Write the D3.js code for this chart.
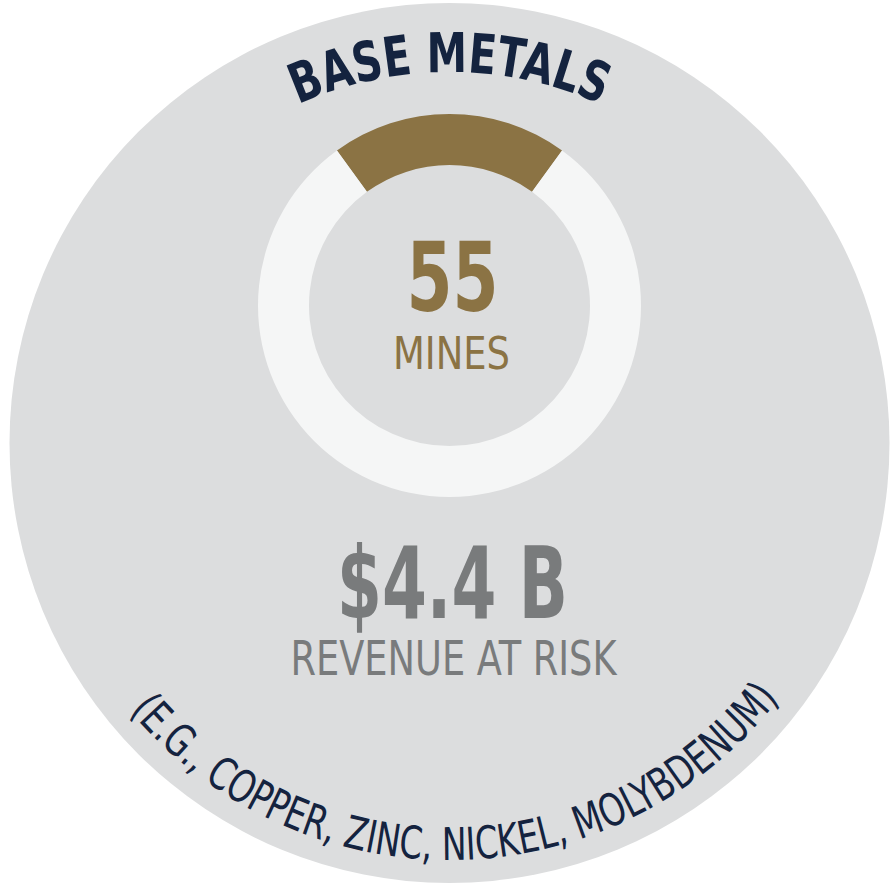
<!DOCTYPE html>
<html>
<head>
<meta charset="utf-8">
<script src="https://cdn.jsdelivr.net/npm/d3@7"></script>
<style>
  html, body { margin: 0; padding: 0; background: #ffffff; }
  svg { display: block; }
</style>
</head>
<body>
<div id="chart"></div>
<script>
// Share of mines: base metals vs. the rest (percent of the ring)
const shareLabels = ["Base metals", "Other"];
const shareValues = [20, 80];

// Headline figures
const mineCount = 55;
const mineLabel = "MINES";
const revenueLabel = "$4.4 B";
const revenueCaption = "REVENUE AT RISK";
const title = "BASE METALS";
const examples = "(E.G., COPPER, ZINC, NICKEL, MOLYBDENUM)";

const W = 892, H = 888;
const NARROW = "'Liberation Sans Narrow', 'DejaVu Sans Condensed', 'Arial Narrow', sans-serif";
const colors = { disc: "#dcddde", ring: "#f5f6f6", gold: "#8b7344", navy: "#14233f", grey: "#797b7c" };

const svg = d3.select("#chart").append("svg")
  .attr("width", W).attr("height", H);

// Backdrop disc
const disc = { cx: 449.5, cy: 443, r: 440 };
svg.append("circle")
  .attr("cx", disc.cx).attr("cy", disc.cy).attr("r", disc.r)
  .attr("fill", colors.disc);

// Curved paths for the title (over the top) and examples (under the bottom)
const defs = svg.append("defs");
const topR = 371, botR = 417;
defs.append("path").attr("id", "topArc")
  .attr("d", `M ${disc.cx - topR} ${disc.cy} A ${topR} ${topR} 0 0 1 ${disc.cx + topR} ${disc.cy}`);
defs.append("path").attr("id", "botArc")
  .attr("d", `M ${disc.cx - botR} ${disc.cy} A ${botR} ${botR} 0 0 0 ${disc.cx + botR} ${disc.cy}`);

svg.append("text")
  .attr("font-family", NARROW).attr("font-weight", "bold")
  .attr("font-size", 55).attr("fill", colors.navy)
  .append("textPath").attr("href", "#topArc")
  .attr("startOffset", "50%").attr("text-anchor", "middle")
  .attr("textLength", 312).attr("lengthAdjust", "spacingAndGlyphs")
  .text(title);

svg.append("text")
  .attr("font-family", NARROW)
  .attr("font-size", 45).attr("fill", colors.navy)
  .append("textPath").attr("href", "#botArc")
  .attr("startOffset", "50.6%").attr("text-anchor", "middle")
  .attr("textLength", 745).attr("lengthAdjust", "spacingAndGlyphs")
  .text(examples);

// Donut ring
const ring = { cx: 449.5, cy: 305.5, outer: 191.5, inner: 140.5 };
const pie = d3.pie().sort(null).value(d => d.value)
  .startAngle(-Math.PI * 0.2).endAngle(Math.PI * 1.8);
const arc = d3.arc().innerRadius(ring.inner).outerRadius(ring.outer);
const color = d3.scaleOrdinal().domain(shareLabels).range([colors.gold, colors.ring]);

svg.append("g")
  .attr("transform", `translate(${ring.cx},${ring.cy})`)
  .selectAll("path")
  .data(pie(shareValues.map((v, i) => ({ label: shareLabels[i], value: v }))))
  .join("path")
  .attr("d", arc)
  .attr("fill", d => color(d.data.label));

// Centre figures
const centre = svg.append("g").attr("text-anchor", "middle").attr("font-family", NARROW);
centre.append("text")
  .attr("x", ring.cx + 3).attr("y", 311)
  .attr("font-size", 97).attr("font-weight", "bold").attr("fill", colors.gold)
  .attr("textLength", 92).attr("lengthAdjust", "spacingAndGlyphs")
  .text(mineCount);
centre.append("text")
  .attr("x", ring.cx + 2).attr("y", 369)
  .attr("font-size", 45).attr("fill", colors.gold)
  .attr("textLength", 117).attr("lengthAdjust", "spacingAndGlyphs")
  .text(mineLabel);

centre.append("text")
  .attr("x", ring.cx + 3).attr("y", 618)
  .attr("font-size", 99).attr("font-weight", "bold").attr("fill", colors.grey)
  .attr("textLength", 231).attr("lengthAdjust", "spacingAndGlyphs")
  .text(revenueLabel);
centre.append("text")
  .attr("x", ring.cx + 4).attr("y", 675)
  .attr("font-size", 48).attr("fill", colors.grey)
  .attr("textLength", 326).attr("lengthAdjust", "spacingAndGlyphs")
  .text(revenueCaption);
</script>
</body>
</html>
